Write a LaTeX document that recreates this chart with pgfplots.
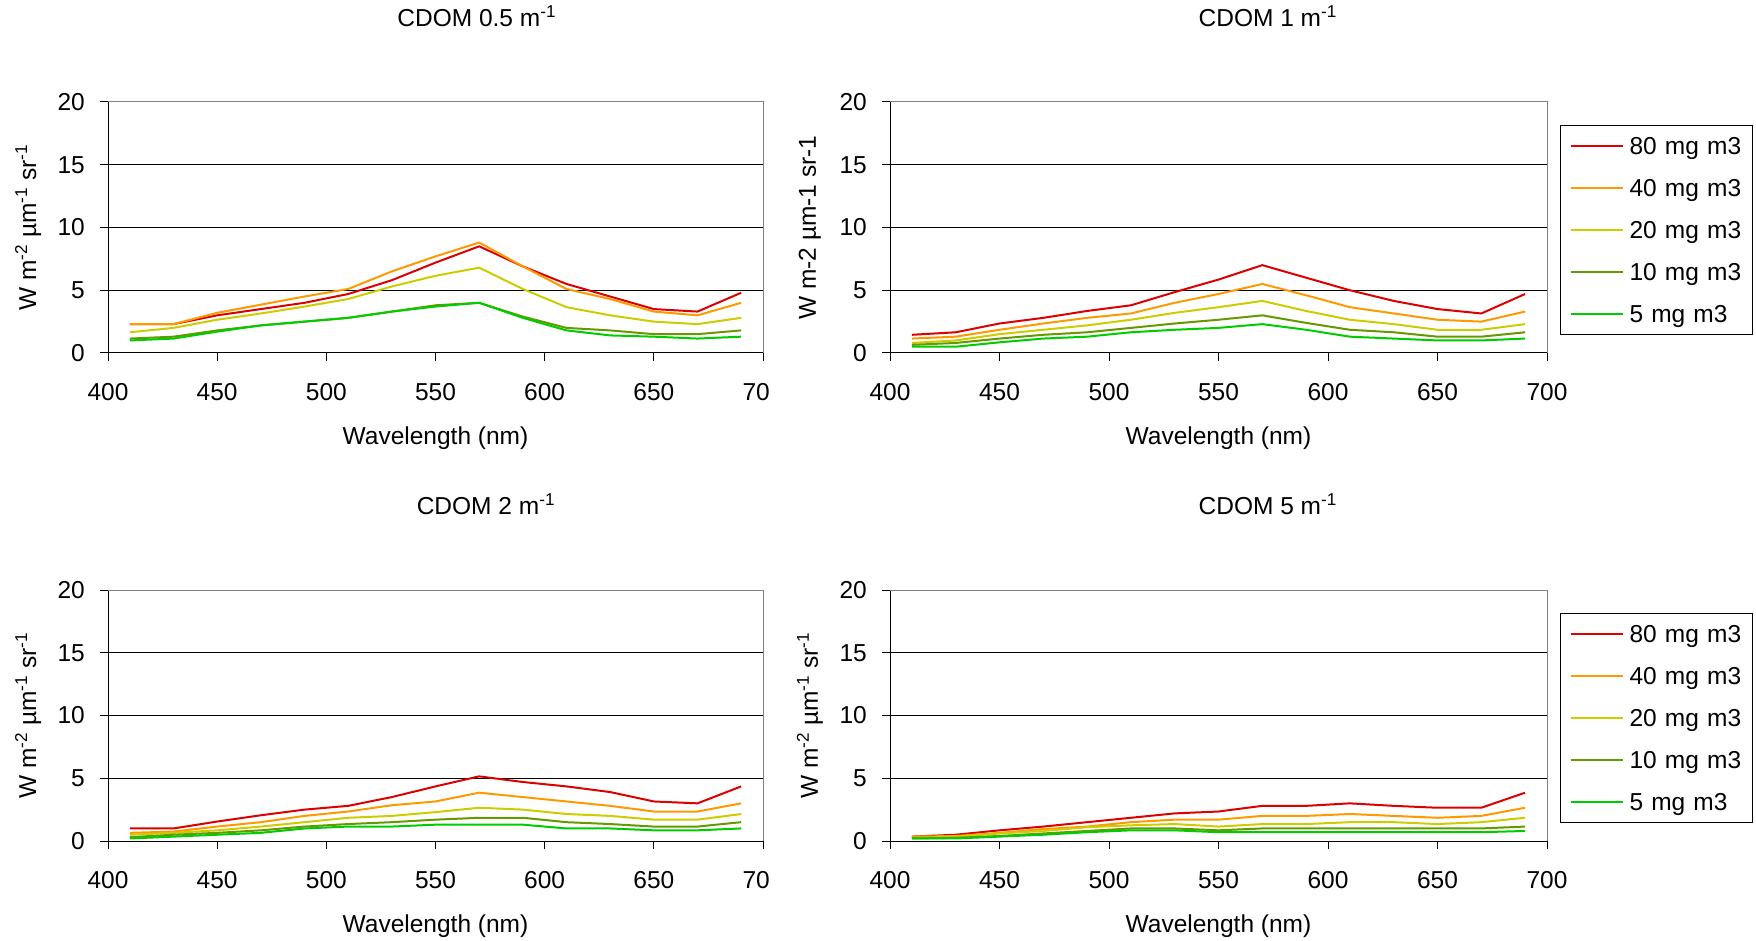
\documentclass[border=0pt]{standalone}
\usepackage{fontspec}
\setmainfont{Liberation Sans}
\usepackage{pgfplots}
\usepackage{pgfplotstable}
\pgfplotsset{compat=1.18}
\definecolor{c80}{RGB}{220,0,0}
\definecolor{c40}{RGB}{255,153,0}
\definecolor{c20}{RGB}{204,204,0}
\definecolor{c10}{RGB}{102,153,0}
\definecolor{c5}{RGB}{0,204,0}
\newcommand\fsz{\fontsize{24.5pt}{29pt}\selectfont}
\tikzset{plotborder/.style={gray, line width=1pt}}

\pgfplotstableread{
wl r o y ol g
410 2.3 2.3 1.65 1.15 1.0
430 2.3 2.3 2.0 1.3 1.15
450 3.0 3.2 2.65 1.8 1.7
470 3.5 3.85 3.15 2.2 2.2
490 4.0 4.5 3.7 2.5 2.5
510 4.7 5.1 4.3 2.8 2.8
530 5.8 6.5 5.3 3.3 3.3
550 7.2 7.7 6.15 3.8 3.7
570 8.5 8.8 6.8 4.0 4.0
590 6.9 6.9 5.1 2.9 2.8
610 5.5 5.1 3.65 2.0 1.8
630 4.5 4.3 3.0 1.8 1.4
650 3.5 3.3 2.5 1.5 1.3
670 3.3 3.0 2.3 1.5 1.15
690 4.8 4.0 2.8 1.8 1.3
}\tabA
\pgfplotstableread{
wl r o y ol g
410 1.45 1.15 0.8 0.65 0.5
430 1.65 1.3 1.0 0.8 0.5
450 2.35 1.85 1.5 1.15 0.85
470 2.8 2.35 1.85 1.45 1.15
490 3.35 2.8 2.2 1.65 1.3
510 3.8 3.15 2.65 2.0 1.65
530 4.85 4.0 3.2 2.35 1.85
550 5.85 4.7 3.65 2.65 2.0
570 7.0 5.5 4.15 3.0 2.3
590 6.0 4.6 3.35 2.4 1.85
610 5.0 3.65 2.65 1.85 1.3
630 4.15 3.15 2.3 1.65 1.15
650 3.5 2.65 1.85 1.3 1.0
670 3.15 2.5 1.85 1.3 1.0
690 4.7 3.3 2.3 1.65 1.15
}\tabB
\pgfplotstableread{
wl r o y ol g
410 1.0 0.65 0.5 0.3 0.2
430 1.0 0.75 0.65 0.5 0.35
450 1.55 1.15 0.85 0.65 0.5
470 2.05 1.5 1.15 0.85 0.65
490 2.5 2.0 1.5 1.15 1.0
510 2.8 2.35 1.85 1.35 1.15
530 3.5 2.85 2.0 1.5 1.15
550 4.35 3.15 2.3 1.7 1.3
570 5.15 3.85 2.65 1.85 1.3
590 4.7 3.5 2.5 1.85 1.3
610 4.35 3.15 2.15 1.5 1.0
630 3.9 2.8 2.0 1.35 1.0
650 3.15 2.35 1.7 1.15 0.85
670 3.0 2.35 1.7 1.15 0.85
690 4.35 3.0 2.15 1.5 1.0
}\tabC
\pgfplotstableread{
wl r o y ol g
410 0.35 0.35 0.25 0.2 0.2
430 0.5 0.4 0.35 0.25 0.2
450 0.85 0.65 0.6 0.4 0.35
470 1.15 0.95 0.8 0.6 0.5
490 1.5 1.15 1.1 0.8 0.7
510 1.85 1.5 1.25 1.0 0.85
530 2.2 1.7 1.35 1.0 0.85
550 2.35 1.7 1.15 0.85 0.7
570 2.8 2.0 1.35 1.0 0.7
590 2.8 2.0 1.35 1.0 0.7
610 3.0 2.15 1.5 1.0 0.7
630 2.8 2.0 1.5 1.0 0.7
650 2.65 1.85 1.35 1.0 0.7
670 2.65 2.0 1.5 1.0 0.7
690 3.85 2.65 1.85 1.15 0.8
}\tabD

\pgfplotsset{
  panel/.style={
    scale only axis, width=655pt, height=251pt, anchor=south west,
    xmin=400, xmax=700, ymin=0, ymax=20,
    xtick={400,450,...,700}, ytick={0,5,...,20},
    axis x line*=bottom, axis y line*=left,
    axis line style={black, line width=1pt},
    tick align=outside, major tick length=8pt,
    major tick style={black, line width=1pt},
    ymajorgrids, major grid style={black, line width=1pt},
    clip=false,
    font=\fsz,
    tick label style={font=\fsz},
    /pgf/number format/assume math mode=true,
    xticklabel style={anchor=north, inner sep=0pt, yshift=-22.6pt},
    yticklabel style={anchor=east, inner sep=0pt, xshift=-15pt},
    xlabel={Wavelength (nm)},
    xlabel style={at={(axis description cs:0.5,-0.3665)}, anchor=base, inner sep=0pt},
    ylabel style={at={(axis description cs:-0.122,0.5)}, anchor=center, inner sep=0pt},
    title style={anchor=base, inner sep=0pt},
    every axis plot/.append style={line width=2pt, line join=round},
    cycle list={{c80},{c40},{c20},{c10},{c5}},
    legend image code/.code={\draw[#1] (0pt,0pt) -- (52pt,0pt);},
    legend cell align=left,
    legend style={at={(axis description cs:1.0198,0.908)}, anchor=north west,
      draw=black, line width=1pt, inner xsep=9pt, inner ysep=0pt,
      column sep=6pt, row sep=0pt,
      nodes={inner sep=0pt, text width=114pt, text height=29.3pt, text depth=12.5pt, font=\fsz}},
  },
}

\begin{document}
\begin{tikzpicture}
\useasboundingbox (0,0) rectangle (1756pt,940pt);

% Panel 1
\begin{axis}[panel, at={(108pt,587pt)},
  xticklabels={400,450,500,550,600,650,70\phantom{0}},
  title={CDOM 0.5 m\textsuperscript{-1}},
  title style={at={(axis description cs:0.563,1.275)}},
  ylabel={W m\textsuperscript{-2} µm\textsuperscript{-1} sr\textsuperscript{-1}}]
\addplot table[x=wl,y=r] \tabA;
\addplot table[x=wl,y=o] \tabA;
\addplot table[x=wl,y=y] \tabA;
\addplot table[x=wl,y=ol] \tabA;
\addplot table[x=wl,y=g] \tabA;
\draw[plotborder] (rel axis cs:0,1) -- (rel axis cs:1,1) -- (rel axis cs:1,0);
\end{axis}

% Panel 2
\begin{axis}[panel, at={(890pt,587pt)}, width=657pt,
  title={CDOM 1 m\textsuperscript{-1}},
  title style={at={(axis description cs:0.575,1.275)}},
  ylabel={W m-2 µm-1 sr-1}]
\addplot table[x=wl,y=r] \tabB;
\addplot table[x=wl,y=o] \tabB;
\addplot table[x=wl,y=y] \tabB;
\addplot table[x=wl,y=ol] \tabB;
\addplot table[x=wl,y=g] \tabB;
\draw[plotborder] (rel axis cs:0,1) -- (rel axis cs:1,1) -- (rel axis cs:1,0);
\legend{80 mg m3, 40 mg m3, 20 mg m3, 10 mg m3, 5 mg m3}
\end{axis}

% Panel 3
\begin{axis}[panel, at={(108pt,99pt)},
  xticklabels={400,450,500,550,600,650,70\phantom{0}},
  title={CDOM 2 m\textsuperscript{-1}},
  title style={at={(axis description cs:0.577,1.275)}},
  ylabel={W m\textsuperscript{-2} µm\textsuperscript{-1} sr\textsuperscript{-1}}]
\addplot table[x=wl,y=r] \tabC;
\addplot table[x=wl,y=o] \tabC;
\addplot table[x=wl,y=y] \tabC;
\addplot table[x=wl,y=ol] \tabC;
\addplot table[x=wl,y=g] \tabC;
\draw[plotborder] (rel axis cs:0,1) -- (rel axis cs:1,1) -- (rel axis cs:1,0);
\end{axis}

% Panel 4
\begin{axis}[panel, at={(890pt,99pt)}, width=657pt,
  title={CDOM 5 m\textsuperscript{-1}},
  title style={at={(axis description cs:0.575,1.275)}},
  ylabel={W m\textsuperscript{-2} µm\textsuperscript{-1} sr\textsuperscript{-1}}]
\addplot table[x=wl,y=r] \tabD;
\addplot table[x=wl,y=o] \tabD;
\addplot table[x=wl,y=y] \tabD;
\addplot table[x=wl,y=ol] \tabD;
\addplot table[x=wl,y=g] \tabD;
\draw[plotborder] (rel axis cs:0,1) -- (rel axis cs:1,1) -- (rel axis cs:1,0);
\legend{80 mg m3, 40 mg m3, 20 mg m3, 10 mg m3, 5 mg m3}
\end{axis}
\end{tikzpicture}
\end{document}
